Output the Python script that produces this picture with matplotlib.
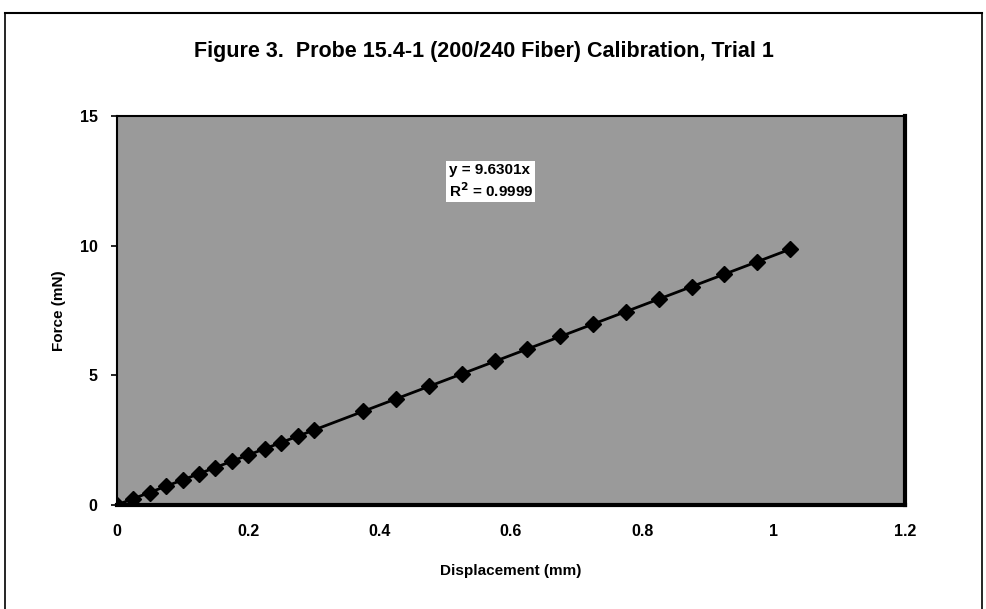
import matplotlib.pyplot as plt
import numpy as np

plt.rcParams['font.family'] = ['Liberation Sans', 'DejaVu Sans']
plt.rcParams['font.weight'] = 'bold'

# data
disp_mm = [0, 0.025, 0.05, 0.075, 0.1, 0.125, 0.15, 0.175, 0.2, 0.225, 0.25, 0.275, 0.3,
           0.375, 0.425, 0.475, 0.525, 0.575, 0.625, 0.675, 0.725, 0.775, 0.825, 0.875,
           0.925, 0.975, 1.025]
force_mN = [0, 0.24, 0.47, 0.72, 0.96, 1.20, 1.44, 1.68, 1.92, 2.16, 2.40, 2.64, 2.88,
            3.62, 4.10, 4.57, 5.05, 5.54, 6.02, 6.50, 6.98, 7.46, 7.94, 8.43,
            8.91, 9.39, 9.87]
x_ticks = [0, 0.2, 0.4, 0.6, 0.8, 1, 1.2]
y_ticks = [0, 5, 10, 15]

x = np.array(disp_mm)
y = np.array(force_mN)
slope = (x * y).sum() / (x * x).sum()  # trendline through origin

fig = plt.figure(figsize=(9.87, 6.09), dpi=100)
ax = fig.add_axes([0.1185, 0.171, 0.7985, 0.638])
ax.set_facecolor('#9a9a9a')

ax.plot([0, x.max()], [0, slope * x.max()], color='black', lw=2, zorder=2)
ax.plot(x, y, 'D', color='black', ms=8.5, zorder=3)

ax.set_xlim(0, 1.2)
ax.set_ylim(0, 15)
ax.set_xticks(x_ticks)
ax.set_xticklabels(['0', '0.2', '0.4', '0.6', '0.8', '1', '1.2'])
ax.set_yticks(y_ticks)
ax.tick_params(axis='both', labelsize=11.5, length=4, width=1.2, pad=10)
ax.tick_params(axis='x', length=0, pad=14)
for s in ax.spines.values():
    s.set_linewidth(1.5)
ax.spines['bottom'].set_linewidth(3)
ax.spines['right'].set_linewidth(3)

ax.set_xlabel('Displacement (mm)', fontsize=11, fontweight='bold', labelpad=18)
ax.set_ylabel('Force (mN)', fontsize=11, fontweight='bold', labelpad=10)

ax.text(0.505, 13.2, 'y = 9.6301x\nR$^2$ = 0.9999', fontsize=11, va='top', ha='left',
        linespacing=1.3, bbox=dict(facecolor='white', edgecolor='none', pad=1.5))

fig.text(0.49, 0.915, 'Figure 3.  Probe 15.4-1 (200/240 Fiber) Calibration, Trial 1',
         ha='center', va='center', fontsize=15.5, fontweight='bold')

# outer chart border
fig.add_artist(plt.Line2D([0.005, 0.995], [0.978, 0.978], color='black', lw=1.5))
fig.add_artist(plt.Line2D([0.005, 0.005], [0.0, 0.978], color='black', lw=1.2))
fig.add_artist(plt.Line2D([0.995, 0.995], [0.0, 0.978], color='black', lw=1.2))

fig.savefig('out.png', dpi=100)
